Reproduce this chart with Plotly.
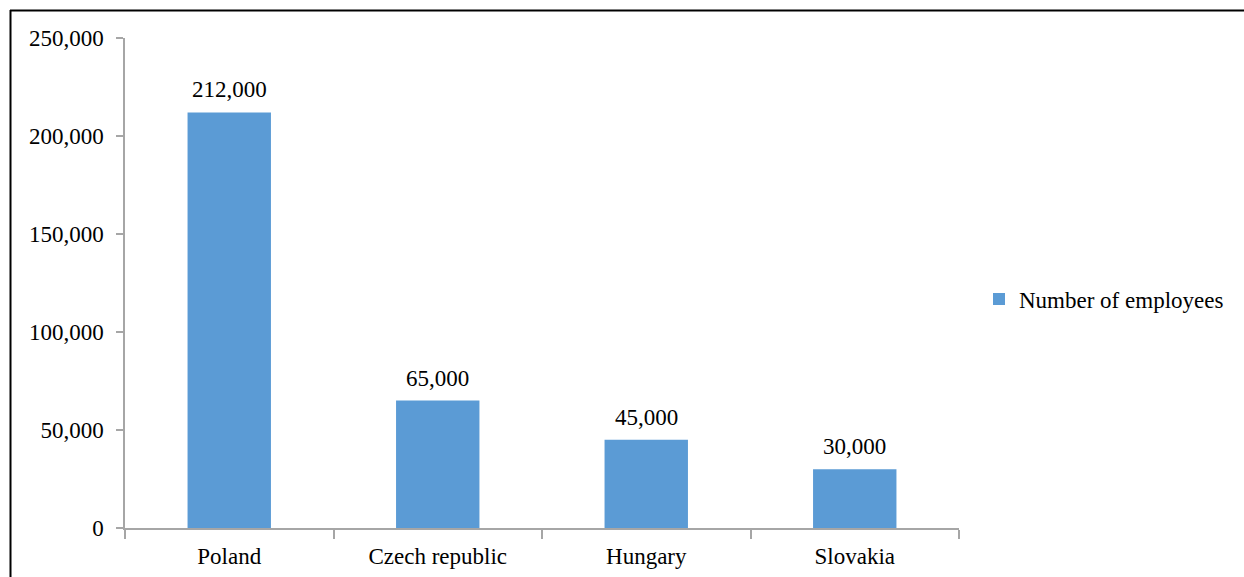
import plotly.graph_objects as go

# Employment by country
countries = ["Poland", "Czech republic", "Hungary", "Slovakia"]
employees = [212000, 65000, 45000, 30000]
series_name = "Number of employees"
y_ticks = [0, 50000, 100000, 150000, 200000, 250000]

W, H = 1244, 577
L, R, T, B = 125, 285, 38, 49
pw, ph = W - L - R, H - T - B

def px_x(x):
    return (x - L) / pw

def px_y(y):
    return (H - B - y) / ph

font_family = "Liberation Serif, Times New Roman, serif"
fsize = 23
axis_grey = "#A6A6A6"

fig = go.Figure()
fig.add_trace(go.Bar(
    x=countries,
    y=employees,
    name=series_name,
    marker=dict(color="#5B9BD5", line=dict(width=0)),
    showlegend=True,
))

# value labels above each bar
for c, v in zip(countries, employees):
    fig.add_annotation(
        x=c, y=v, xref="x", yref="y",
        text=f"{v:,}", showarrow=False,
        yanchor="bottom", yshift=8,
        font=dict(family=font_family, size=fsize, color="#000000"),
    )

fig.update_layout(
    width=W, height=H,
    margin=dict(l=L, r=R, t=T, b=B),
    paper_bgcolor="white",
    plot_bgcolor="white",
    bargap=0.6,
    font=dict(family=font_family, size=fsize, color="#000000"),
    showlegend=True,
    legend=dict(
        x=px_x(979), y=px_y(299), xanchor="left", yanchor="middle",
        font=dict(family=font_family, size=fsize, color="#000000"),
        itemwidth=30, bgcolor="rgba(0,0,0,0)",
    ),
    xaxis=dict(
        showline=True, linecolor=axis_grey, linewidth=1.5,
        ticks="outside", tickson="boundaries", ticklen=9,
        tickcolor=axis_grey, tickwidth=1.5,
        showgrid=False, zeroline=False, automargin=False,
        ticklabelstandoff=7,
        tickfont=dict(family=font_family, size=fsize, color="#000000"),
    ),
    yaxis=dict(
        range=[0, 250000], tickvals=y_ticks, tickformat=",",
        showline=True, linecolor=axis_grey, linewidth=1.5,
        ticks="outside", ticklen=7, tickcolor=axis_grey, tickwidth=1.5,
        showgrid=False, zeroline=False, automargin=False,
        ticklabelstandoff=8,
        tickfont=dict(family=font_family, size=fsize, color="#000000"),
    ),
    shapes=[
        dict(type="line", xref="paper", yref="paper",
             x0=px_x(10), x1=px_x(W + 5), y0=px_y(10.5), y1=px_y(10.5),
             line=dict(color="#000000", width=2)),
        dict(type="line", xref="paper", yref="paper",
             x0=px_x(10.5), x1=px_x(10.5), y0=px_y(10), y1=px_y(H + 5),
             line=dict(color="#000000", width=2)),
    ],
)

fig.write_html("out.html")
